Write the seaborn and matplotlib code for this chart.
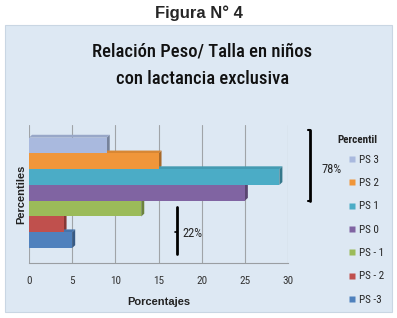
import numpy as np
import pandas as pd
import matplotlib.pyplot as plt
import seaborn as sns
from matplotlib.patches import Rectangle, Polygon
from matplotlib.lines import Line2D
import matplotlib.colors as mcolors

sns.set_theme(style="white")
plt.rcParams['font.family'] = ['Liberation Sans', 'DejaVu Sans']
COND = ['Roboto Condensed', 'Liberation Sans']

# data
percentiles = ['PS 3', 'PS 2', 'PS 1', 'PS 0', 'PS - 1', 'PS - 2', 'PS -3']
values = [9, 15, 29, 25, 13, 4, 5]
colors = ['#a9b9de', '#f0963a', '#4bacc6', '#8064a2', '#9bbb59', '#c0504d', '#4f81bd']
x_ticks = [0, 5, 10, 15, 20, 25, 30]

df = pd.DataFrame({'Percentil': percentiles, 'Porcentaje': values})

W, H = 397, 318
fig = plt.figure(figsize=(W / 100, H / 100), dpi=100)
fig.patch.set_facecolor('white')

# chart area background
bg = Rectangle((5 / W, 1 - 312 / H), 387 / W, 287 / H, transform=fig.transFigure,
               facecolor='#dde8f3', edgecolor='#c9d6e3', lw=0.8, zorder=-1)
fig.patches.append(bg)

fig.text(0.5, 1 - 13 / H, 'Figura N° 4', ha='center', va='center',
         fontsize=12, fontweight='bold')
fig.text(0.51, 1 - 65 / H, 'Relación Peso/ Talla en niños\ncon lactancia exclusiva',
         ha='center', va='center', fontsize=13.4, linespacing=1.7, color='#111111',
         family=COND, fontstretch='condensed', fontweight='medium')

ax = fig.add_axes([29 / W, 1 - 263 / H, 259 / W, 138 / H])
ax.set_facecolor('none')

sns.barplot(data=df, y='Percentil', x='Porcentaje', hue='Percentil', palette=colors,
            orient='h', width=1.0, legend=False, ax=ax, saturation=1, zorder=3,
            edgecolor='none', linewidth=0)

# fake 3D depth on each bar
dx, dy = 0.35, -0.18
bars = list(ax.patches)
for p, c in zip(bars, colors):
    x0, y0 = p.get_x(), p.get_y()
    w, h = p.get_width(), p.get_height()
    dark = tuple(np.array(mcolors.to_rgb(c)) * 0.7)
    light = tuple(np.array(mcolors.to_rgb(c)) * 0.9)
    side = Polygon([(x0 + w, y0), (x0 + w + dx, y0 + dy), (x0 + w + dx, y0 + h + dy),
                    (x0 + w, y0 + h)], closed=True, facecolor=dark, edgecolor='none', zorder=2.5)
    top = Polygon([(x0, y0), (x0 + dx, y0 + dy), (x0 + w + dx, y0 + dy), (x0 + w, y0)],
                  closed=True, facecolor=light, edgecolor='none', zorder=2.5)
    ax.add_patch(side)
    ax.add_patch(top)

ax.set_xlim(0, 30)
ax.set_ylim(7.45, -1.3)
ax.set_xticks(x_ticks)
ax.set_xticklabels([str(t) for t in x_ticks], fontsize=8, color='#333333', family=COND)
ax.tick_params(axis='x', length=0, pad=9)
ax.set_yticks([])
for t in x_ticks:
    ax.axvline(t, color='#a0a4a8', lw=0.8, zorder=1)
for s in ['top', 'right', 'left']:
    ax.spines[s].set_visible(False)
ax.spines['bottom'].set_color('#9a9ea2')
ax.spines['bottom'].set_linewidth(0.8)

ax.set_xlabel('Porcentajes', fontsize=8, fontweight='bold', labelpad=8, color='#222222')
ax.set_ylabel('Percentiles', fontsize=8, fontweight='bold', labelpad=2, color='#222222')

# brackets with percentages
ax.plot([32.6, 32.6], [-1.0, 3.5], color='black', lw=2, clip_on=False, zorder=5)
ax.plot([32.3, 32.6], [-1.0, -1.0], color='black', lw=1.5, clip_on=False, zorder=5)
ax.plot([32.3, 32.6], [3.5, 3.5], color='black', lw=1.5, clip_on=False, zorder=5)
ax.text(33.9, 1.55, '78%', fontsize=9, va='center', ha='left', clip_on=False, family=COND)

ax.plot([17.2, 17.2], [3.9, 6.9], color='black', lw=2, clip_on=False, zorder=5)
ax.plot([16.9, 17.2], [5.5, 5.5], color='black', lw=1.2, clip_on=False, zorder=5)
ax.text(17.8, 5.6, '22%', fontsize=9, va='center', ha='left', clip_on=False, family=COND)

# legend
fig.text(357 / W, 1 - 140 / H, 'Percentil', ha='center', va='center',
         fontsize=8, fontweight='bold', color='#222222', family=COND)
handles = [Line2D([0], [0], marker='s', color='none', markerfacecolor=c,
                  markeredgecolor='none', markersize=5) for c in colors]
leg = fig.legend(handles, percentiles, loc='upper left', bbox_to_anchor=(340 / W, 1 - 147 / H),
                 frameon=False, prop={'family': COND, 'size': 8},
                 handlelength=0.8, handletextpad=0.2, labelspacing=1.2, borderpad=0.2)

fig.savefig('out.png', dpi=100)
